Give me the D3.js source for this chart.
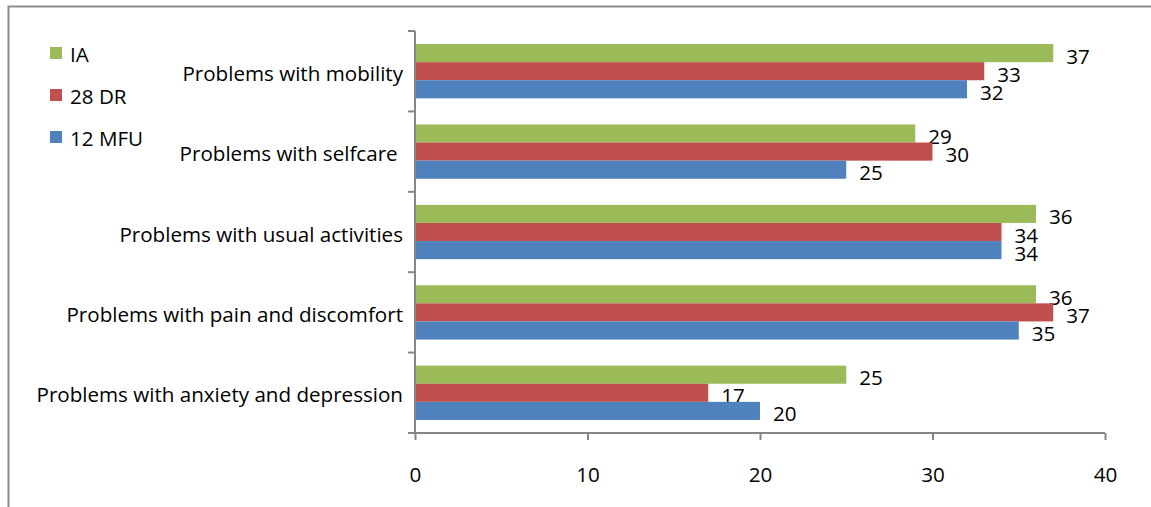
<!DOCTYPE html>
<html>
<head>
<meta charset="utf-8">
<script src="https://cdn.jsdelivr.net/npm/d3@7"></script>
<style>
  html, body { margin: 0; padding: 0; background: #fff; }
  svg text { font-family: "Open Sans", sans-serif; fill: #000; }
</style>
</head>
<body>
<svg id="chart" width="1151" height="507"></svg>
<script>
// Categories (top to bottom) and series values
const categories = [
  "Problems with mobility",
  "Problems with selfcare ",
  "Problems with usual activities",
  "Problems with pain and discomfort",
  "Problems with anxiety and depression"
];
const seriesNames = ["IA", "28 DR", "12 MFU"];
const seriesColors = ["#9BBB59", "#C0504D", "#4F81BD"];
const valuesIA    = [37, 29, 36, 36, 25];
const values28DR  = [33, 30, 34, 37, 17];
const values12MFU = [32, 25, 34, 35, 20];
const xTicks = [0, 10, 20, 30, 40];

const seriesValues = [valuesIA, values28DR, values12MFU];

const svg = d3.select("#chart");
const W = 1151, H = 507;
const FS = 20.6;

// outer frame of the chart area
svg.append("path")
  .attr("d", `M8.5,${H + 2} V6.5 H${W + 2}`)
  .attr("fill", "none")
  .attr("stroke", "#8c8c8c")
  .attr("stroke-width", 2);

const plot = { left: 415, right: 1105, top: 31, bottom: 433 };

const x = d3.scaleLinear().domain([0, 40]).range([plot.left, plot.right]);
const yCat = d3.scaleBand().domain(categories).range([plot.top, plot.bottom]);
const ySer = d3.scaleBand().domain(seriesNames)
  .range([0, yCat.bandwidth()]).paddingOuter(0.72).paddingInner(0);

// bars
categories.forEach((cat, ci) => {
  const g = svg.append("g").attr("transform", `translate(0,${yCat(cat)})`);
  seriesNames.forEach((s, si) => {
    const v = seriesValues[si][ci];
    g.append("rect")
      .attr("x", x(0))
      .attr("y", ySer(s))
      .attr("width", x(v) - x(0))
      .attr("height", ySer.bandwidth())
      .attr("fill", seriesColors[si]);
    g.append("text")
      .attr("x", x(v) + 13)
      .attr("y", ySer(s) + ySer.bandwidth() / 2 + 5)
      .attr("dominant-baseline", "middle")
      .attr("font-size", FS)
      .text(v);
  });
});

// category axis
const axisColor = "#868686";
const yAxis = svg.append("g")
  .attr("transform", `translate(${plot.left},0)`);
yAxis.append("line")
  .attr("x1", 0).attr("x2", 0)
  .attr("y1", plot.top).attr("y2", plot.bottom)
  .attr("stroke", axisColor).attr("stroke-width", 2);
const catEdges = categories.map(c => yCat(c)).concat([plot.bottom]);
yAxis.selectAll("line.tick").data(catEdges).join("line")
  .attr("class", "tick")
  .attr("x1", -7).attr("x2", 0)
  .attr("y1", d => d).attr("y2", d => d)
  .attr("stroke", axisColor).attr("stroke-width", 2);
yAxis.selectAll("text").data(categories).join("text")
  .attr("x", -12)
  .attr("y", d => yCat(d) + yCat.bandwidth() / 2 + 4)
  .attr("dominant-baseline", "middle")
  .attr("text-anchor", "end")
  .attr("font-size", FS)
  .style("white-space", "pre")
  .text(d => d);

// value axis
const xAxis = svg.append("g")
  .attr("transform", `translate(0,${plot.bottom})`)
  .call(d3.axisBottom(x).tickValues(xTicks).tickSize(7).tickSizeOuter(0).tickPadding(27));
xAxis.select(".domain").attr("stroke", axisColor).attr("stroke-width", 2);
xAxis.selectAll(".tick line").attr("stroke", axisColor).attr("stroke-width", 2);
xAxis.selectAll(".tick text")
  .attr("font-size", FS)
  .attr("font-family", "'Open Sans', sans-serif")
  .attr("fill", "#000");
xAxis.select(".domain").attr("d", `M${plot.left - 7},0H${plot.right}`);

// legend
const legend = svg.append("g");
seriesNames.forEach((s, i) => {
  const ly = 53 + i * 42;
  legend.append("rect")
    .attr("x", 50).attr("y", ly - 6)
    .attr("width", 12).attr("height", 12)
    .attr("fill", seriesColors[i]);
  legend.append("text")
    .attr("x", 70).attr("y", ly + 3)
    .attr("dominant-baseline", "middle")
    .attr("font-size", FS)
    .text(s);
});
</script>
</body>
</html>
